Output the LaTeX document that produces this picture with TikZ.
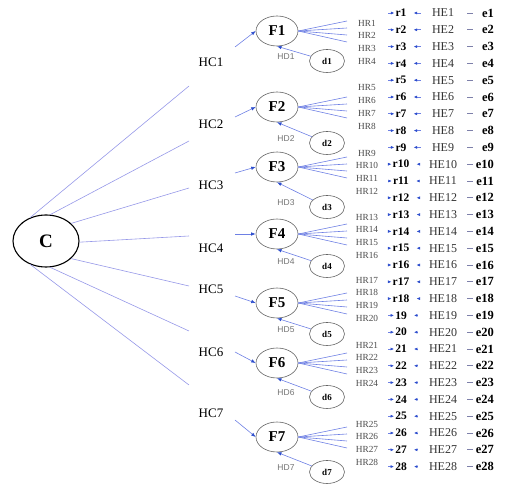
\documentclass[tikz,border=0pt]{standalone}
\usepackage{fontspec}
\setmainfont{Liberation Serif}
\newfontfamily\hdfont{Liberation Sans}
\usepackage{xcolor}
\usepackage{tikz}
\usetikzlibrary{shapes.geometric}
\usetikzlibrary{arrows.meta}

\definecolor{lineblue}{RGB}{110,128,228}
\definecolor{lavender}{RGB}{150,152,232}
\definecolor{tipblue}{RGB}{45,78,205}
\definecolor{ringgray}{RGB}{100,100,100}
\definecolor{tickgray}{RGB}{125,128,170}

\tikzset{
  cnode/.style={draw=black, line width=1.1, ellipse, minimum width=66, minimum height=52, inner sep=0, font=\fontsize{19}{19}\selectfont\bfseries},
  factor/.style={draw=ringgray, line width=0.6, ellipse, minimum width=42, minimum height=30, inner sep=0, font=\fontsize{15}{15}\selectfont\bfseries},
  dnode/.style={draw=ringgray, line width=0.6, ellipse, minimum width=35, minimum height=23, inner sep=0, font=\fontsize{9}{9}\selectfont\bfseries},
  hclab/.style={font=\fontsize{13}{13}\selectfont},
  hrlab/.style={text=black!70, font=\fontsize{9.3}{9.3}\selectfont},
  hdlab/.style={text=black!55, font=\hdfont\fontsize{8.5}{8.5}\selectfont},
  rlab/.style={inner sep=1, font=\fontsize{11.5}{11.5}\selectfont\bfseries},
  helab/.style={inner sep=1, text=black!80, font=\fontsize{12}{12}\selectfont},
  elab/.style={inner sep=1, font=\fontsize{12.5}{12.5}\selectfont\bfseries},
  link/.style={draw=lineblue, line width=0.6},
  cline/.style={draw=lavender, line width=0.6},
  arr/.style={link, -{Latex[length=4.5pt,width=3.5pt,color=tipblue]}},
  smallarr/.style={link, -{Latex[length=3.5pt,width=3pt,color=tipblue]}},
  etick/.style={draw=tickgray, line width=0.6}
}

\begin{document}
\begin{tikzpicture}[x=1pt,y=-1pt]
  \useasboundingbox (0,0) rectangle (515,494);
  % Second-order factor
  \node[cnode] (C) at (46,241) {C};
  % First-order factors, disturbances and item paths
  \foreach \f/\fy/\hy/\dy in {1/31/23/61, 2/107/88/143, 3/167/153/207, 4/234/217/266, 5/303/280/334, 6/363/345/397, 7/437/424/472} {
    \node[factor] (F\f) at (277,\fy) {F\f};
    \node[dnode] (d\f) at (327,\dy) {d\f};
    \node[hdlab] (hd\f) at (286,\dy-4) {HD\f};
    \draw[arr] (d\f) -- (F\f.south);
    \foreach \k in {0,...,3} {
      \pgfmathtruncatemacro\n{4*(\f-1)+\k+1}
      \coordinate (q\n) at (347,\fy-10+7*\k);
      \draw[link] (F\f.east) -- (q\n);
      \node[hrlab] (hr\n) at (367,\hy+12.8*\k) {HR\n};
    }
  }
  % Paths from C to the first-order factors
  \foreach \h/\ly/\by/\ay/\ang in {1/62/86/47/124, 2/124/141/117/81, 3/185/188/173/35, 4/248/236/234/-2, 5/289/286/296/-35, 6/352/331/352/-81, 7/413/385/420/-124} {
    \coordinate (b\h) at (189,\by);
    \coordinate (a\h) at (235,\ay);
    \node[hclab] (HC\h) at (211,\ly) {HC\h};
    \draw[cline] (C.\ang) -- (b\h);
    \draw[arr] (a\h) -- (F\h.west);
  }
  % Item rows
  \foreach \i in {1,...,28} {
    \pgfmathsetmacro\ry{13+(\i-1)*16.8}
    \node[rlab] (r\i) at (401,\ry) {\ifnum\i<19 r\fi\i};
    \node[helab] (he\i) at (443,\ry) {HE\i};
    \node[elab, anchor=east] (e\i) at (495,\ry) {e\i};
    \coordinate (ra\i) at (388,\ry);
    \coordinate (ta\i) at (467,\ry);
    \coordinate (tb\i) at (473,\ry);
    \draw[smallarr] (ra\i) -- (r\i);
    \draw[smallarr, shorten <=10, shorten >=6] (he\i) -- (r\i);
    \draw[etick] (ta\i) -- (tb\i);
  }
\end{tikzpicture}
\end{document}
